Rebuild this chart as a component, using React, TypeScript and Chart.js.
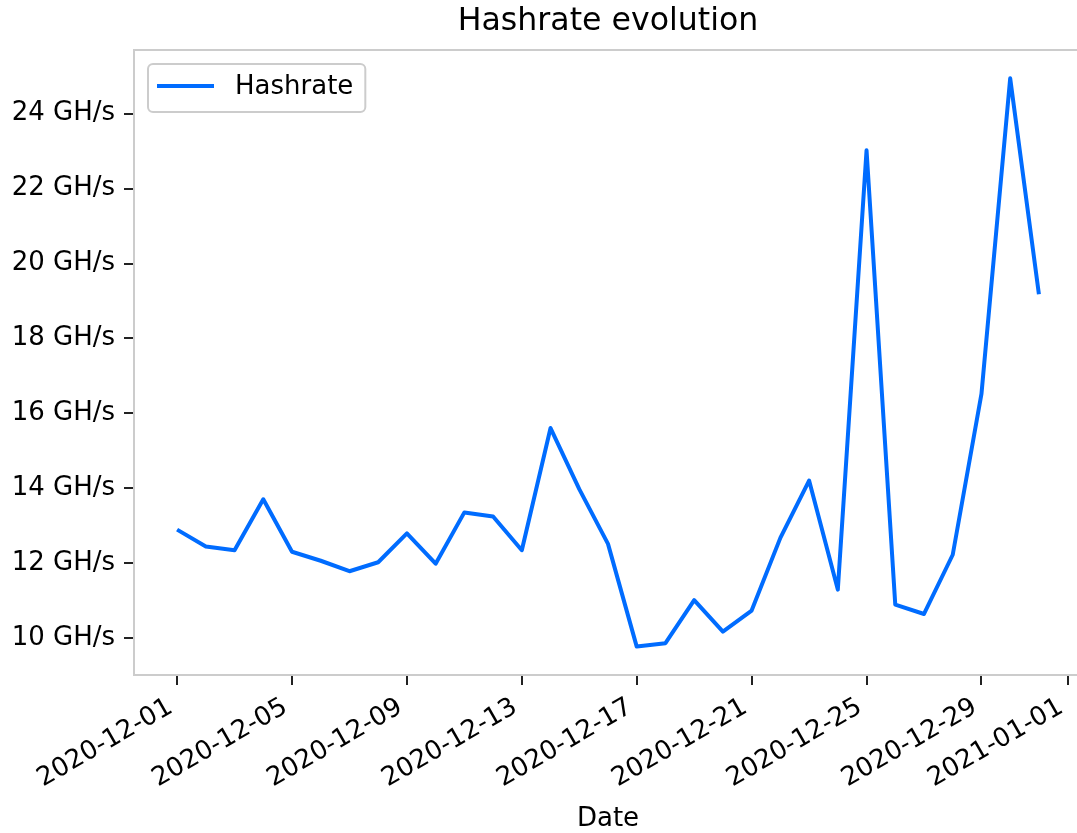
import React, { useEffect, useRef } from 'react';
import { Chart, registerables } from 'chart.js';

Chart.register(...registerables);

const dates = [
  '2020-12-01', '2020-12-02', '2020-12-03', '2020-12-04', '2020-12-05', '2020-12-06',
  '2020-12-07', '2020-12-08', '2020-12-09', '2020-12-10', '2020-12-11', '2020-12-12',
  '2020-12-13', '2020-12-14', '2020-12-15', '2020-12-16', '2020-12-17', '2020-12-18',
  '2020-12-19', '2020-12-20', '2020-12-21', '2020-12-22', '2020-12-23', '2020-12-24',
  '2020-12-25', '2020-12-26', '2020-12-27', '2020-12-28', '2020-12-29', '2020-12-30',
  '2020-12-31',
];

const hashrate = [
  12.9, 12.45, 12.35, 13.71, 12.31, 12.07, 11.79, 12.03, 12.8, 11.99, 13.36, 13.25,
  12.35, 15.61, 13.98, 12.52, 9.78, 9.87, 11.02, 10.18, 10.74, 12.68, 14.21, 11.3,
  23.02, 10.9, 10.65, 12.23, 16.52, 24.94, 19.18,
];

const xTickLabels = [
  '2020-12-01', '2020-12-05', '2020-12-09', '2020-12-13', '2020-12-17',
  '2020-12-21', '2020-12-25', '2020-12-29', '2021-01-01',
];

const yTicks = [10, 12, 14, 16, 18, 20, 22, 24];
const yUnit = 'GH/s';
const seriesLabel = 'Hashrate';
const chartTitle = 'Hashrate evolution';
const xTitle = 'Date';

const FONT = "'DejaVu Sans', sans-serif";
const BLUE = '#006cff';
const SPINE = '#cccccc';
const FONT_SIZE = 26;
const X_ROTATION_DEG = 30;

const frame = {
  id: 'frame',
  afterDraw(chart: any) {
    const { ctx, chartArea } = chart;
    ctx.save();
    ctx.strokeStyle = SPINE;
    ctx.lineWidth = 2;
    ctx.beginPath();
    ctx.moveTo(chartArea.left, chartArea.top);
    ctx.lineTo(chartArea.right, chartArea.top);
    ctx.lineTo(chartArea.right, chartArea.bottom);
    ctx.stroke();
    ctx.restore();
  },
};

// matplotlib-style rotated labels: bbox top-right corner anchored under the tick
const rotatedXLabels = {
  id: 'rotatedXLabels',
  afterDraw(chart: any) {
    const s = chart.scales.x;
    const ctx = chart.ctx;
    const th = (X_ROTATION_DEG * Math.PI) / 180;
    const a = 0.76 * FONT_SIZE;
    const d = 0.24 * FONT_SIZE;
    const y0 = s.top + 10 + 9;
    ctx.save();
    ctx.font = `${FONT_SIZE}px ${FONT}`;
    ctx.fillStyle = '#000';
    ctx.textAlign = 'right';
    ctx.textBaseline = 'alphabetic';
    s.ticks.forEach((t: any) => {
      const x = s.getPixelForValue(t.value);
      ctx.save();
      ctx.translate(x - d * Math.sin(th), y0 + a * Math.cos(th));
      ctx.rotate(-th);
      ctx.fillText(String(t.label), 0, 0);
      ctx.restore();
    });
    ctx.restore();
  },
};

const insideLegend = {
  id: 'insideLegend',
  afterDraw(chart: any) {
    const { ctx, chartArea } = chart;
    const ds = chart.data.datasets[0];
    ctx.save();
    ctx.font = `${FONT_SIZE}px ${FONT}`;
    const tw = ctx.measureText(ds.label).width;
    const x = chartArea.left + 14;
    const y = chartArea.top + 14;
    const w = 87 + tw + 12;
    const h = 48;
    const r = 5;
    ctx.beginPath();
    ctx.moveTo(x + r, y);
    ctx.lineTo(x + w - r, y);
    ctx.arcTo(x + w, y, x + w, y + r, r);
    ctx.lineTo(x + w, y + h - r);
    ctx.arcTo(x + w, y + h, x + w - r, y + h, r);
    ctx.lineTo(x + r, y + h);
    ctx.arcTo(x, y + h, x, y + h - r, r);
    ctx.lineTo(x, y + r);
    ctx.arcTo(x, y, x + r, y, r);
    ctx.closePath();
    ctx.fillStyle = 'rgba(255,255,255,0.8)';
    ctx.fill();
    ctx.strokeStyle = SPINE;
    ctx.lineWidth = 2;
    ctx.stroke();
    ctx.strokeStyle = ds.borderColor;
    ctx.lineWidth = 4;
    ctx.beginPath();
    ctx.moveTo(x + 9, y + 22);
    ctx.lineTo(x + 66, y + 22);
    ctx.stroke();
    ctx.fillStyle = '#000';
    ctx.textBaseline = 'middle';
    ctx.textAlign = 'left';
    ctx.fillText(ds.label, x + 87, y + 23);
    ctx.restore();
  },
};

export default function App() {
  const ref = useRef<HTMLCanvasElement>(null);

  useEffect(() => {
    if (!ref.current) return;
    const t0 = Date.parse(dates[0]);
    const day = (s: string) => (Date.parse(s) - t0) / 86400000;
    const pts = dates.map((d, i) => ({ x: day(d), y: hashrate[i] }));
    const xTickDays = xTickLabels.map(day);

    const xs = pts.map((p) => p.x);
    const xSpan = Math.max(...xs) - Math.min(...xs);
    const xMin = Math.min(...xs) - 0.05 * xSpan;
    const xMax = Math.max(...xs) + 0.05 * xSpan;
    const ySpan = Math.max(...hashrate) - Math.min(...hashrate);
    const yMin = Math.min(...hashrate) - 0.05 * ySpan;
    const yMax = Math.max(...hashrate) + 0.05 * ySpan;

    const tickFont = { family: FONT, size: FONT_SIZE };

    const chart = new Chart(ref.current, {
      type: 'line',
      data: {
        datasets: [
          {
            label: seriesLabel,
            data: pts,
            borderColor: BLUE,
            backgroundColor: BLUE,
            borderWidth: 4,
            borderJoinStyle: 'round',
            borderCapStyle: 'butt',
            pointRadius: 0,
            tension: 0,
            fill: false,
          },
        ],
      },
      options: {
        animation: false,
        responsive: false,
        maintainAspectRatio: false,
        layout: { padding: { left: 0, right: 18, top: 0, bottom: 0 } },
        plugins: {
          legend: { display: false },
          tooltip: { enabled: false },
          title: {
            display: true,
            text: chartTitle,
            fullSize: false,
            color: '#000',
            font: { family: FONT, size: 31.6, weight: 'normal' },
            padding: { top: 3, bottom: 9 },
          },
        },
        scales: {
          x: {
            type: 'linear',
            min: xMin,
            max: xMax,
            afterBuildTicks: (s: any) => {
              s.ticks = xTickDays.map((v) => ({ value: v }));
            },
            afterFit: (s: any) => {
              s.height = 162;
            },
            ticks: {
              autoSkip: false,
              minRotation: X_ROTATION_DEG,
              maxRotation: X_ROTATION_DEG,
              padding: 4,
              color: 'rgba(0,0,0,0)',
              font: tickFont,
              callback: (v: any) => {
                const i = xTickDays.indexOf(Number(v));
                return i >= 0 ? xTickLabels[i] : '';
              },
            },
            grid: {
              drawOnChartArea: false,
              drawTicks: true,
              tickLength: 10,
              color: '#000',
              tickColor: '#222',
              lineWidth: 2,
              tickWidth: 2,
            },
            border: { display: true, color: SPINE, width: 2 },
            title: {
              display: true,
              text: xTitle,
              color: '#000',
              font: tickFont,
              padding: { top: 0, bottom: 2 },
            },
          },
          y: {
            type: 'linear',
            min: yMin,
            max: yMax,
            afterBuildTicks: (s: any) => {
              s.ticks = yTicks.map((v) => ({ value: v }));
            },
            afterFit: (s: any) => {
              s.width = 134;
            },
            ticks: {
              padding: 9,
              color: '#000',
              font: tickFont,
              callback: (v: any) => `${v} ${yUnit}`,
            },
            grid: {
              drawOnChartArea: false,
              drawTicks: true,
              tickLength: 10,
              color: '#000',
              tickColor: '#222',
              lineWidth: 2,
              tickWidth: 2,
            },
            border: { display: true, color: SPINE, width: 2 },
          },
        },
      } as any,
      plugins: [frame, rotatedXLabels, insideLegend],
    });
    return () => chart.destroy();
  }, []);

  return (
    <div
      style={{
        position: 'absolute',
        left: 0,
        top: 0,
        width: 1077,
        height: 833,
        overflow: 'hidden',
        background: '#fff',
      }}
    >
      <canvas ref={ref} width={1100} height={837} style={{ display: 'block' }} />
    </div>
  );
}
